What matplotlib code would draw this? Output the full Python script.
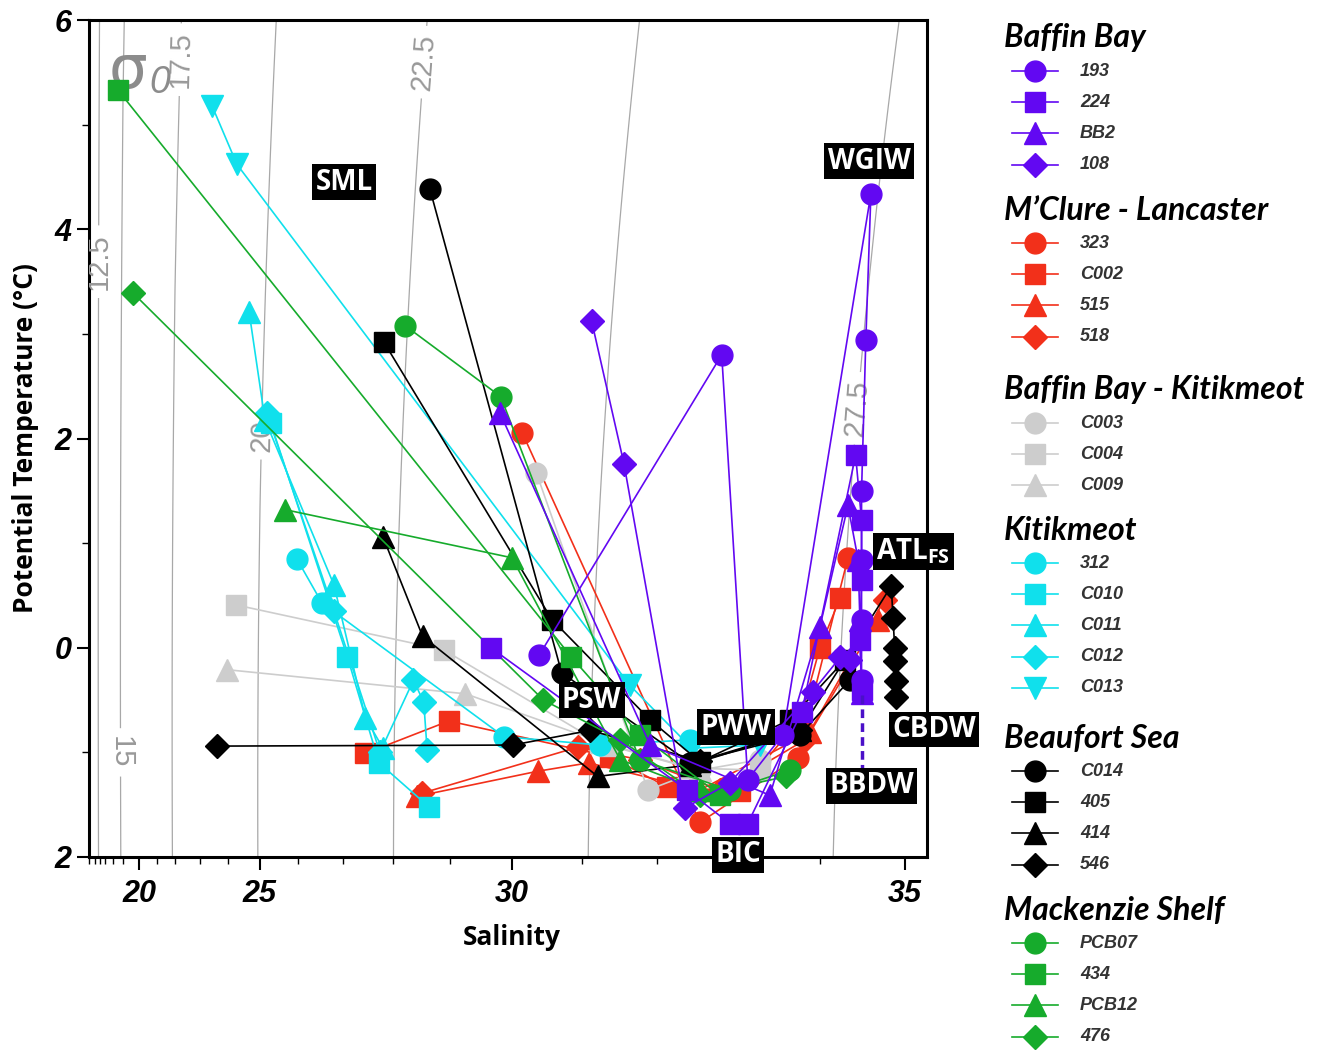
import numpy as np
import matplotlib
matplotlib.use('Agg')
import matplotlib.pyplot as plt

plt.rcParams['font.family'] = ['Liberation Sans', 'DejaVu Sans']
plt.rcParams['mathtext.fontset'] = 'custom'
plt.rcParams['mathtext.bf'] = 'Open Sans:bold'

# ---- station profiles: salinity / potential temperature (degC) ----
# Baffin Bay
s193 = [30.39, 32.80, 33.12, 33.55, 34.60, 34.54, 34.49, 34.49, 34.49, 34.49]
t193 = [-0.07, 2.80, -1.26, -0.83, 4.34, 2.94, 1.50, 0.84, 0.27, -0.31]
s224 = [29.66, 32.37, 32.90, 33.12, 33.78, 34.42, 34.49, 34.49, 34.47, 34.49]
t224 = [0.00, -1.36, -1.68, -1.68, -0.61, 1.84, 1.22, 0.65, 0.07, -0.40]
sBB2 = [29.81, 31.91, 33.39, 34.00, 34.33, 34.45, 34.47, 34.49]
tBB2 = [2.24, -0.93, -1.41, 0.20, 1.36, 0.84, 0.27, -0.43]
s108 = [31.13, 31.56, 32.35, 32.90, 33.91, 34.24, 34.35]
t108 = [3.12, 1.76, -1.53, -1.29, -0.42, -0.09, -0.12]

# M'Clure - Lancaster
s323 = [30.15, 32.53, 33.73, 34.33]
t323 = [2.05, -1.67, -1.05, 0.86]
sC002 = [27.45, 28.98, 31.37, 32.12, 33.02, 33.76, 34.00, 34.24]
tC002 = [-1.01, -0.70, -1.04, -1.33, -1.37, -0.68, 0.00, 0.48]
s515 = [28.42, 30.37, 31.09, 32.53, 33.88, 34.68]
t515 = [-1.42, -1.18, -1.10, -1.36, -0.81, 0.27]
s518 = [28.51, 30.94, 31.77, 32.78, 33.82, 34.76]
t518 = [-1.39, -0.95, -1.07, -1.36, -0.88, 0.46]

# Baffin Bay - Kitikmeot
sC003 = [30.35, 31.88, 32.53, 33.27]
tC003 = [1.67, -1.36, -1.17, -1.07]
sC004 = [24.24, 28.89, 31.24, 32.41, 33.27]
tC004 = [0.41, -0.02, -0.91, -1.15, -1.17]
sC009 = [23.98, 29.25, 31.37, 32.53]
tC009 = [-0.21, -0.44, -0.93, -1.17]

# Kitikmeot
s312 = [25.97, 26.53, 29.87, 31.24, 32.41]
t312 = [0.85, 0.43, -0.85, -0.93, -0.88]
sC010 = [25.28, 27.09, 27.72, 28.63]
tC010 = [2.15, -0.09, -1.10, -1.52]
sC011 = [24.66, 25.13, 26.80, 27.45, 27.80]
tC011 = [3.21, 2.18, 0.60, -0.67, -0.96]
sC012 = [25.18, 26.80, 27.74, 28.36, 28.54, 28.60]
tC012 = [2.24, 0.35, -1.00, -0.31, -0.52, -0.98]
sC013 = [23.43, 24.28, 31.64, 32.43, 33.27]
tC013 = [5.18, 4.62, -0.36, -0.96, -0.93]

# Beaufort Sea
sC014 = [28.65, 30.71, 32.41, 33.76, 34.35]
tC014 = [4.38, -0.24, -1.10, -0.83, -0.31]
s405 = [27.82, 30.57, 31.91, 32.53, 33.63, 34.29]
t405 = [2.92, 0.27, -0.69, -1.09, -0.69, -0.12]
s414 = [27.80, 28.52, 31.21, 32.41, 33.76]
t414 = [1.06, 0.11, -1.23, -1.12, -0.79]
s546 = [23.61, 30.01, 31.11, 32.53, 33.76, 34.84, 34.86, 34.88, 34.88, 34.90, 34.90]
t546 = [-0.94, -0.93, -0.79, -1.08, -0.79, 0.59, 0.28, 0.00, -0.13, -0.32, -0.47]

# Mackenzie Shelf
sPCB07 = [28.21, 29.82, 31.77, 32.90, 33.63]
tPCB07 = [3.08, 2.40, -1.07, -1.36, -1.17]
s434 = [18.50, 30.85, 31.77, 32.78]
t434 = [5.33, -0.09, -0.83, -1.41]
sPCB12 = [25.66, 30.00, 31.51, 32.53]
tPCB12 = [1.32, 0.86, -1.07, -1.36]
s476 = [19.63, 30.45, 31.51, 32.53, 33.59]
t476 = [3.39, -0.50, -0.88, -1.41, -1.23]

# water mass tags (salinity, temperature)
water_masses = ['SML', 'WGIW', r'ATL$_\mathbf{FS}$', 'PSW', 'PWW', 'CBDW', 'BBDW', 'BIC']
wm_sal = [27.02, 34.58, 35.10, 31.13, 32.98, 35.34, 34.61, 33.00]
wm_temp = [4.45, 4.65, 0.92, -0.50, -0.76, -0.78, -1.32, -1.98]

sigma_levels = [12.5, 15, 17.5, 20, 22.5, 25, 27.5]
sigma_labelled = [(15.4, 3.69), (18.9, -1.0), (22.3, 5.62), (25.05, 2.03), (28.47, 5.6), (34.42, 2.29)]

purple, red, grey, cyan, black, green = '#6208f2', '#f2301a', '#cdcdcd', '#10e0ec', '#000000', '#16ab2c'

groups = [
    ('Baffin Bay', purple, [('193', 'o', s193, t193), ('224', 's', s224, t224),
                            ('BB2', '^', sBB2, tBB2), ('108', 'D', s108, t108)]),
    ('M\u2019Clure - Lancaster', red, [('323', 'o', s323, t323), ('C002', 's', sC002, tC002),
                                      ('515', '^', s515, t515), ('518', 'D', s518, t518)]),
    ('Baffin Bay - Kitikmeot', grey, [('C003', 'o', sC003, tC003), ('C004', 's', sC004, tC004),
                                      ('C009', '^', sC009, tC009)]),
    ('Kitikmeot', cyan, [('312', 'o', s312, t312), ('C010', 's', sC010, tC010),
                         ('C011', '^', sC011, tC011), ('C012', 'D', sC012, tC012),
                         ('C013', 'v', sC013, tC013)]),
    ('Beaufort Sea', black, [('C014', 'o', sC014, tC014), ('405', 's', s405, t405),
                             ('414', '^', s414, t414), ('546', 'D', s546, t546)]),
    ('Mackenzie Shelf', green, [('PCB07', 'o', sPCB07, tPCB07), ('434', 's', s434, t434),
                                ('PCB12', '^', sPCB12, tPCB12), ('476', 'D', s476, t476)]),
]
draw_order = [2, 3, 5, 4, 1, 0]
msize = {'o': 15, 's': 14, '^': 16, 'v': 16, 'D': 12}

# stretched salinity axis: screen offset of each whole salinity unit
sal_knots = np.arange(14, 37, dtype=float)
sal_screen = np.array([0, 6, 11, 16, 24, 34, 50, 68, 86, 111, 139, 171, 209, 254,
                       304, 361, 423, 493, 568, 649, 731, 816, 901], dtype=float)


def sal_fwd(s):
    return np.interp(s, sal_knots, sal_screen)


def sal_inv(x):
    return np.interp(x, sal_screen, sal_knots)


def sigma0(S, T):
    # EOS-80 density at the surface, minus 1000
    rw = (999.842594 + 6.793952e-2 * T - 9.095290e-3 * T**2 + 1.001685e-4 * T**3
          - 1.120083e-6 * T**4 + 6.536332e-9 * T**5)
    a = 8.24493e-1 - 4.0899e-3 * T + 7.6438e-5 * T**2 - 8.2467e-7 * T**3 + 5.3875e-9 * T**4
    b = -5.72466e-3 + 1.0227e-4 * T - 1.6546e-6 * T**2
    return rw + a * S + b * S**1.5 + 4.8314e-4 * S**2 - 1000.0


fig = plt.figure(figsize=(13.22, 10.5), dpi=100)
ax = fig.add_axes([89 / 1322, 1 - 857 / 1050, 838 / 1322, 837 / 1050])
ax.set_xscale('function', functions=(sal_fwd, sal_inv))
ax.set_xlim(14, 35.26)
ax.set_ylim(-2, 6)

# density contours
SS, TT = np.meshgrid(np.linspace(13.5, 36, 500), np.linspace(-2.5, 6.5, 200))
cs = ax.contour(SS, TT, sigma0(SS, TT), levels=sigma_levels, colors='#a8a8a8',
                linewidths=0.9, zorder=1)
ax.clabel(cs, manual=sigma_labelled, inline=True, inline_spacing=8, fmt='%g',
          fontsize=21, colors='#999999')
# sigma-0 symbol with its subscript
ax.text(0.024, 0.919, '\u03c3', transform=ax.transAxes, family='DejaVu Sans',
        fontsize=44, color='#8c8c8c', va='baseline', ha='left', zorder=2)
ax.text(0.072, 0.913, '0', transform=ax.transAxes, style='italic', fontsize=27,
        color='#8c8c8c', va='baseline', ha='left', zorder=2)

for gi in draw_order:
    title, col, stations = groups[gi]
    for name, mk, s, t in stations:
        ax.plot(s, t, color=col, lw=1.2, marker=mk, ms=msize[mk], mec=col, mfc=col,
                zorder=3 + gi * 0.1 if gi else 4)

# BBDW dashed marker
ax.plot([34.49, 34.49], [-0.45, -1.2], color='#4a10c8', lw=2.5, ls=(0, (2.5, 1.5)), zorder=4)

for lab, s, t in zip(water_masses, wm_sal, wm_temp):
    ax.text(s, t, lab, family='Open Sans', weight='bold', fontsize=20, color='white',
            ha='center', va='center', zorder=10, clip_on=False,
            bbox=dict(boxstyle='square,pad=0.12', fc='black', ec='none'))

ax.set_xticks([20, 25, 30, 35])
ax.set_xticks([s for s in range(14, 36) if s not in (20, 25, 30, 35)], minor=True)
ax.set_yticks([-2, 0, 2, 4, 6])
ax.set_yticklabels(['2', '0', '2', '4', '6'])
ax.set_yticks([-1, 1, 3, 5], minor=True)
for lbl in ax.get_xticklabels() + ax.get_yticklabels():
    lbl.set_fontweight('bold')
    lbl.set_fontstyle('italic')
    lbl.set_fontsize(22)
ax.tick_params(which='major', length=9, width=1.5, direction='out')
ax.tick_params(which='minor', length=5, width=1.0, direction='out')
ax.tick_params(axis='x', pad=7)
for sp in ax.spines.values():
    sp.set_linewidth(2.2)

ax.set_xlabel('Salinity', family='Open Sans', weight='bold', fontsize=19)
ax.xaxis.set_label_coords(0.505, -0.08)
ax.set_ylabel('Potential Temperature (\u00b0C)', family='Open Sans', weight='bold', fontsize=19)
ax.yaxis.set_label_coords(-0.06, 0.5)

# legend panel, laid out in pixel-like units
lax = fig.add_axes([1000 / 1322, 0, 322 / 1322, 1])
lax.set_xlim(0, 322)
lax.set_ylim(1050, 0)
lax.axis('off')
title_rows = [38, 210, 390, 530, 738, 910]
for (title, col, stations), ty in zip(groups, title_rows):
    lax.text(4, ty, title, family='Lato', weight='bold', style='italic', fontsize=23,
             va='center', ha='left')
    for k, (name, mk, s, t) in enumerate(stations):
        y = ty + 33 + k * 31.2
        lax.plot([12, 58], [y, y], color=col, lw=1.2)
        lax.plot([35], [y], color=col, marker=mk, ms=msize[mk], mec=col, mfc=col)
        lax.text(80, y, name, weight='bold', style='italic', fontsize=13, color='#333333',
                 va='center', ha='left')

fig.savefig('out.png', dpi=100)
